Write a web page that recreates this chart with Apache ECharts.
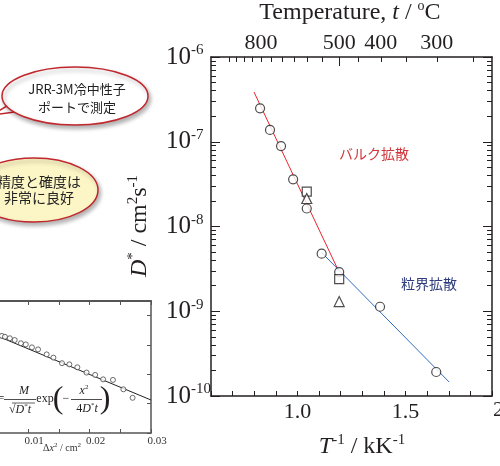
<!DOCTYPE html>
<html>
<head>
<meta charset="utf-8">
<script src="https://cdn.jsdelivr.net/npm/echarts@6/dist/echarts.min.js"></script>
<style>
html, body { margin: 0; padding: 0; background: #fff; }
#chart { width: 500px; height: 466px; }
</style>
</head>
<body>
<div id="chart"></div>
<script>
// main plot: D* against 1/T (kK^-1)
var circleInvT = [0.827, 0.873, 0.924, 0.980, 1.043, 1.112, 1.193, 1.382, 1.642];
var circleD    = [2.48e-7, 1.38e-7, 8.9e-8, 3.6e-8, 1.63e-8, 4.78e-9, 2.9e-9, 1.13e-9, 1.92e-10];
var squareInvT = [1.043, 1.193];
var squareD    = [2.58e-8, 2.4e-9];
var triInvT    = [1.043, 1.193];
var triD       = [2.14e-8, 1.30e-9];
// fitted lines (end points)
var bulkInvT = [0.799, 1.188];
var bulkD    = [3.86e-7, 3.07e-9];
var gbInvT   = [1.114, 1.702];
var gbD      = [4.86e-9, 1.46e-10];
// axis ticks / labels
var invTLabels = [1.0, 1.5];
var tempTicks  = [1000, 950, 900, 850, 800, 750, 700, 650, 600, 550, 500, 450, 400, 350, 300, 250];
var tempLabels = [800, 500, 400, 300];
var decades    = [-10, -9, -8, -7, -6];
// the temperature scale in the reference sits about 0.1 kK^-1 left of the true 1/T
var TOP_SHIFT = -0.1;

// inset: profile vs dx^2 (left part of the inset is cut off in the reference)
var insetX = [0.0057, 0.0062, 0.0070, 0.0078, 0.0088, 0.0096, 0.0106, 0.0116, 0.0130, 0.0141,
              0.0155, 0.0167, 0.0180, 0.0195, 0.0209, 0.0222, 0.0238, 0.0255, 0.0270];
var insetY = [3.31, 3.28, 3.23, 3.17, 3.06, 3.02, 2.92, 2.85, 2.68, 2.57,
              2.38, 2.34, 2.24, 2.06, 1.98, 1.83, 1.81, 1.49, 1.20];
var insetFitX = [0, 0.03];
var insetFitY = [3.74, 1.125];
var insetTicks  = [0.01, 0.015, 0.02, 0.025, 0.03];
var insetLabels = [0.01, 0.02, 0.03];
var INSET_XMIN = 0.0054;   // value seen at the picture's left edge

var INK = '#231f20';
var SERIF = '"Liberation Serif", "Times New Roman", serif';
var JP = '"Noto Sans CJK JP", sans-serif';
var RED = '#c1272d';

function tempPos(t) { return 1000 / (t + 273.15) + TOP_SHIFT; }
function logPairs(xs, ys) { return xs.map(function (x, i) { return [x, Math.log10(ys[i])]; }); }
function pairs(xs, ys) { return xs.map(function (x, i) { return [x, ys[i]]; }); }
// rich token for graphic texts (zrender does not inherit font parts)
function tok(size, extra) {
  var o = { fontFamily: SERIF, fontSize: size, fill: INK };
  for (var k in extra) o[k] = extra[k];
  return o;
}

var minorTicks = [];
decades.slice(0, -1).forEach(function (n) {
  for (var k = 2; k <= 9; k++) minorTicks.push(n + Math.log10(k));
});

var frame = { onZero: false, lineStyle: { color: INK, width: 1.5 } };
var noLabel = { show: false };
var noSplit = { show: false };

var chart = echarts.init(document.getElementById('chart'));
chart.setOption({
  animation: false,
  grid: [
    { left: 211, top: 57, width: 281, height: 339 },
    { left: 0, top: 301, width: 151, height: 132 }
  ],
  xAxis: [
    { gridIndex: 0, type: 'value', position: 'bottom', min: 0.6, max: 1.9, interval: 0.1,
      axisLine: frame, splitLine: noSplit,
      axisTick: { inside: true, length: 5, lineStyle: { color: INK } },
      axisLabel: { customValues: invTLabels, formatter: function (v) { return v.toFixed(1); },
                   fontFamily: SERIF, fontSize: 22, color: INK, margin: 5 } },
    { gridIndex: 0, type: 'value', position: 'top', min: 0.6, max: 1.9,
      axisLine: frame, splitLine: noSplit,
      axisTick: { inside: true, length: 5, customValues: tempTicks.map(tempPos), lineStyle: { color: INK } },
      axisLabel: { customValues: tempLabels.map(tempPos),
                   formatter: function (v) {
                     for (var i = 0; i < tempLabels.length; i++)
                       if (Math.abs(tempPos(tempLabels[i]) - v) < 1e-6) return String(tempLabels[i]);
                     return '';
                   },
                   fontFamily: SERIF, fontSize: 22, color: INK, margin: 3 } },
    { gridIndex: 0, type: 'value', position: 'top', min: 0.6, max: 1.9,
      axisLine: { show: false }, splitLine: noSplit, axisLabel: noLabel,
      axisTick: { inside: true, length: 9, customValues: [tempPos(500)], lineStyle: { color: INK } } },
    { gridIndex: 1, type: 'value', position: 'bottom', min: INSET_XMIN, max: 0.03,
      axisLine: { onZero: false, lineStyle: { color: '#555', width: 1.5 } }, splitLine: noSplit,
      axisTick: { inside: true, length: 4, customValues: insetTicks, lineStyle: { color: '#555' } },
      axisLabel: { customValues: insetLabels, formatter: function (v) { return v.toFixed(2); },
                   fontFamily: SERIF, fontSize: 11, color: '#333', margin: 3, padding: [0, 0, 0, 12] } },
    { gridIndex: 1, type: 'value', position: 'top', min: INSET_XMIN, max: 0.03,
      axisLine: { onZero: false, lineStyle: { color: '#555', width: 2 } }, splitLine: noSplit,
      axisTick: { inside: true, length: 4, customValues: insetTicks, lineStyle: { color: '#555' } }, axisLabel: noLabel }
  ],
  yAxis: [
    { gridIndex: 0, type: 'value', position: 'left', min: -10, max: -6, interval: 1,
      axisLine: frame, splitLine: noSplit,
      axisTick: { inside: true, length: 9, lineStyle: { color: INK } },
      axisLabel: { align: 'left', margin: 45,
                   formatter: function (v) { return '{b|10}{e|' + v + '}'; },
                   rich: { b: { fontFamily: SERIF, fontSize: 25, color: INK, lineHeight: 28 },
                           e: { fontFamily: SERIF, fontSize: 15, color: INK, lineHeight: 14, verticalAlign: 'top' } } } },
    { gridIndex: 0, type: 'value', position: 'right', min: -10, max: -6, interval: 1,
      axisLine: frame, splitLine: noSplit, axisLabel: noLabel,
      axisTick: { inside: true, length: 9, lineStyle: { color: INK } } },
    { gridIndex: 0, type: 'value', position: 'left', min: -10, max: -6,
      axisLine: { show: false, onZero: false }, splitLine: noSplit, axisLabel: noLabel,
      axisTick: { inside: true, length: 5, customValues: minorTicks, lineStyle: { color: INK } } },
    { gridIndex: 0, type: 'value', position: 'right', min: -10, max: -6,
      axisLine: { show: false, onZero: false }, splitLine: noSplit, axisLabel: noLabel,
      axisTick: { inside: true, length: 5, customValues: minorTicks, lineStyle: { color: INK } } },
    { gridIndex: 1, type: 'value', position: 'left', min: 0, max: 4.5, interval: 1,
      axisLine: { show: false, onZero: false }, splitLine: noSplit, axisLabel: noLabel,
      axisTick: { show: false } },
    { gridIndex: 1, type: 'value', position: 'right', min: 0, max: 4.5, interval: 1,
      axisLine: { onZero: false, lineStyle: { color: '#555', width: 1.5 } }, splitLine: noSplit, axisLabel: noLabel,
      axisTick: { inside: true, length: 4, lineStyle: { color: '#555' } } }
  ],
  series: [
    { type: 'line', xAxisIndex: 0, yAxisIndex: 0, data: logPairs(bulkInvT, bulkD), symbol: 'none',
      lineStyle: { color: '#e8232b', width: 1 }, z: 2 },
    { type: 'line', xAxisIndex: 0, yAxisIndex: 0, data: logPairs(gbInvT, gbD), symbol: 'none',
      lineStyle: { color: '#2e6bc4', width: 1 }, z: 2 },
    { type: 'scatter', xAxisIndex: 0, yAxisIndex: 0, data: logPairs(circleInvT, circleD),
      symbol: 'circle', symbolSize: 9, itemStyle: { color: '#fff', borderColor: INK, borderWidth: 1.2 }, z: 3 },
    { type: 'scatter', xAxisIndex: 0, yAxisIndex: 0, data: logPairs(squareInvT, squareD),
      symbol: 'rect', symbolSize: 9, itemStyle: { color: '#fff', borderColor: INK, borderWidth: 1.2 }, z: 3 },
    { type: 'scatter', xAxisIndex: 0, yAxisIndex: 0, data: logPairs(triInvT, triD),
      symbol: 'triangle', symbolSize: 10, itemStyle: { color: '#fff', borderColor: INK, borderWidth: 1.2 }, z: 3 },
    { type: 'line', xAxisIndex: 3, yAxisIndex: 4, data: pairs(insetFitX, insetFitY), symbol: 'none',
      lineStyle: { color: '#222', width: 1 }, z: 2 },
    { type: 'scatter', xAxisIndex: 3, yAxisIndex: 4, data: pairs(insetX, insetY),
      symbol: 'circle', symbolSize: 5, itemStyle: { color: '#fff', borderColor: '#333', borderWidth: 0.9 }, z: 3 }
  ],
  graphic: [
    // axis titles
    { type: 'text', x: 350, y: 13, style: { text: '{r|Temperature, }{i|t}{r| / }{s|o}{r|C}',
      align: 'center', verticalAlign: 'middle',
      rich: { r: tok(24, { lineHeight: 28 }), i: tok(24, { fontStyle: 'italic', lineHeight: 28 }),
              s: tok(14, { verticalAlign: 'top', lineHeight: 14 }) } } },
    { type: 'text', x: 362, y: 447, style: { text: '{i|T}{s|-1}{r| / kK}{s|-1}',
      align: 'center', verticalAlign: 'middle',
      rich: { r: tok(24, { lineHeight: 28 }), i: tok(24, { fontStyle: 'italic', lineHeight: 28 }),
              s: tok(15, { verticalAlign: 'top', lineHeight: 14 }) } } },
    { type: 'text', x: 140, y: 226, rotation: Math.PI / 2, style: { text: '{i|D}{s|*}{r| / cm}{s|2}{r|s}{s|-1}',
      align: 'center', verticalAlign: 'middle',
      rich: { r: tok(24, { lineHeight: 28 }), i: tok(24, { fontStyle: 'italic', lineHeight: 28 }),
              s: tok(15, { verticalAlign: 'top', lineHeight: 14 }) } } },
    { type: 'text', x: 493, y: 410, style: { text: '2.0', fontFamily: SERIF, fontSize: 22, fill: INK,
      align: 'left', verticalAlign: 'middle' } },
    // annotations
    { type: 'text', x: 374, y: 154, style: { text: 'バルク拡散', fontFamily: JP, fontSize: 14, fill: '#d0363b',
      align: 'center', verticalAlign: 'middle' } },
    { type: 'text', x: 429, y: 284, style: { text: '粒界拡散', fontFamily: JP, fontSize: 14, fill: '#2e3b7c',
      align: 'center', verticalAlign: 'middle' } },
    // callouts
    { type: 'polygon', shape: { points: [[12, 103], [-8, 115], [22, 111]] },
      style: { fill: '#fff', stroke: RED, lineWidth: 1.5 } },
    { type: 'ellipse', shape: { cx: 75, cy: 96, rx: 73, ry: 29 },
      style: { fill: '#fff', stroke: RED, lineWidth: 1.5, shadowBlur: 4, shadowColor: 'rgba(0,0,0,0.3)',
               shadowOffsetX: 2, shadowOffsetY: 3 } },
    { type: 'text', x: 77, y: 98, style: { text: 'JRR-3M冷中性子\nポートで測定', fontFamily: JP, fontSize: 13,
      lineHeight: 18, fill: '#222', align: 'center', verticalAlign: 'middle' } },
    { type: 'ellipse', shape: { cx: 34, cy: 190, rx: 64, ry: 32 },
      style: { fill: '#fcf6c6', stroke: RED, lineWidth: 1.5, shadowBlur: 4, shadowColor: 'rgba(0,0,0,0.3)',
               shadowOffsetX: 2, shadowOffsetY: 3 } },
    { type: 'text', x: 39, y: 190, style: { text: '精度と確度は\n非常に良好', fontFamily: JP, fontSize: 14,
      lineHeight: 16, fill: '#222', align: 'center', verticalAlign: 'middle' } },
    // inset formula and axis name
    { type: 'text', x: 1, y: 399, style: { text: '=', fontFamily: SERIF, fontSize: 12, fill: INK, align: 'center', verticalAlign: 'middle' } },
    { type: 'text', x: 24, y: 391, style: { text: 'M', fontFamily: SERIF, fontStyle: 'italic', fontSize: 12, fill: INK, align: 'center', verticalAlign: 'middle' } },
    { type: 'line', shape: { x1: 4, y1: 399.5, x2: 36, y2: 399.5 }, style: { stroke: INK, lineWidth: 0.8 } },
    { type: 'text', x: 20, y: 410, style: { text: '√{i|D}{s|*}{i|t}', align: 'center', verticalAlign: 'middle',
      fontFamily: SERIF, fontSize: 12, fill: INK,
      rich: { i: tok(12, { fontStyle: 'italic', lineHeight: 14 }), s: tok(7, { verticalAlign: 'top', lineHeight: 7 }) } } },
    { type: 'line', shape: { x1: 12, y1: 403, x2: 35, y2: 403 }, style: { stroke: INK, lineWidth: 0.7 } },
    { type: 'text', x: 45, y: 399, style: { text: 'exp', fontFamily: SERIF, fontSize: 12, fill: INK, align: 'center', verticalAlign: 'middle' } },
    { type: 'text', x: 58, y: 400, style: { text: '(', fontFamily: SERIF, fontSize: 32, fill: INK, align: 'center', verticalAlign: 'middle' } },
    { type: 'text', x: 66, y: 399, style: { text: '−', fontFamily: SERIF, fontSize: 12, fill: INK, align: 'center', verticalAlign: 'middle' } },
    { type: 'text', x: 84, y: 391, style: { text: '{i|x}{s|2}', align: 'center', verticalAlign: 'middle',
      rich: { i: tok(12, { fontStyle: 'italic', lineHeight: 14 }), s: tok(7, { verticalAlign: 'top', lineHeight: 7 }) } } },
    { type: 'line', shape: { x1: 71, y1: 399.5, x2: 102, y2: 399.5 }, style: { stroke: INK, lineWidth: 0.8 } },
    { type: 'text', x: 87, y: 409, style: { text: '{r|4}{i|D}{s|*}{i|t}', align: 'center', verticalAlign: 'middle',
      rich: { r: tok(12, { lineHeight: 14 }), i: tok(12, { fontStyle: 'italic', lineHeight: 14 }),
              s: tok(7, { verticalAlign: 'top', lineHeight: 7 }) } } },
    { type: 'text', x: 105, y: 400, style: { text: ')', fontFamily: SERIF, fontSize: 32, fill: INK, align: 'center', verticalAlign: 'middle' } },
    { type: 'text', x: 62, y: 448, style: { text: '{r|Δ}{i|x}{s|2}{r| / cm}{s|2}', align: 'center', verticalAlign: 'middle',
      rich: { r: tok(10, { lineHeight: 12, fill: '#333' }), i: tok(10, { fontStyle: 'italic', lineHeight: 12, fill: '#333' }),
              s: tok(7, { verticalAlign: 'top', lineHeight: 7, fill: '#333' }) } } }
  ]
});
</script>
</body>
</html>
